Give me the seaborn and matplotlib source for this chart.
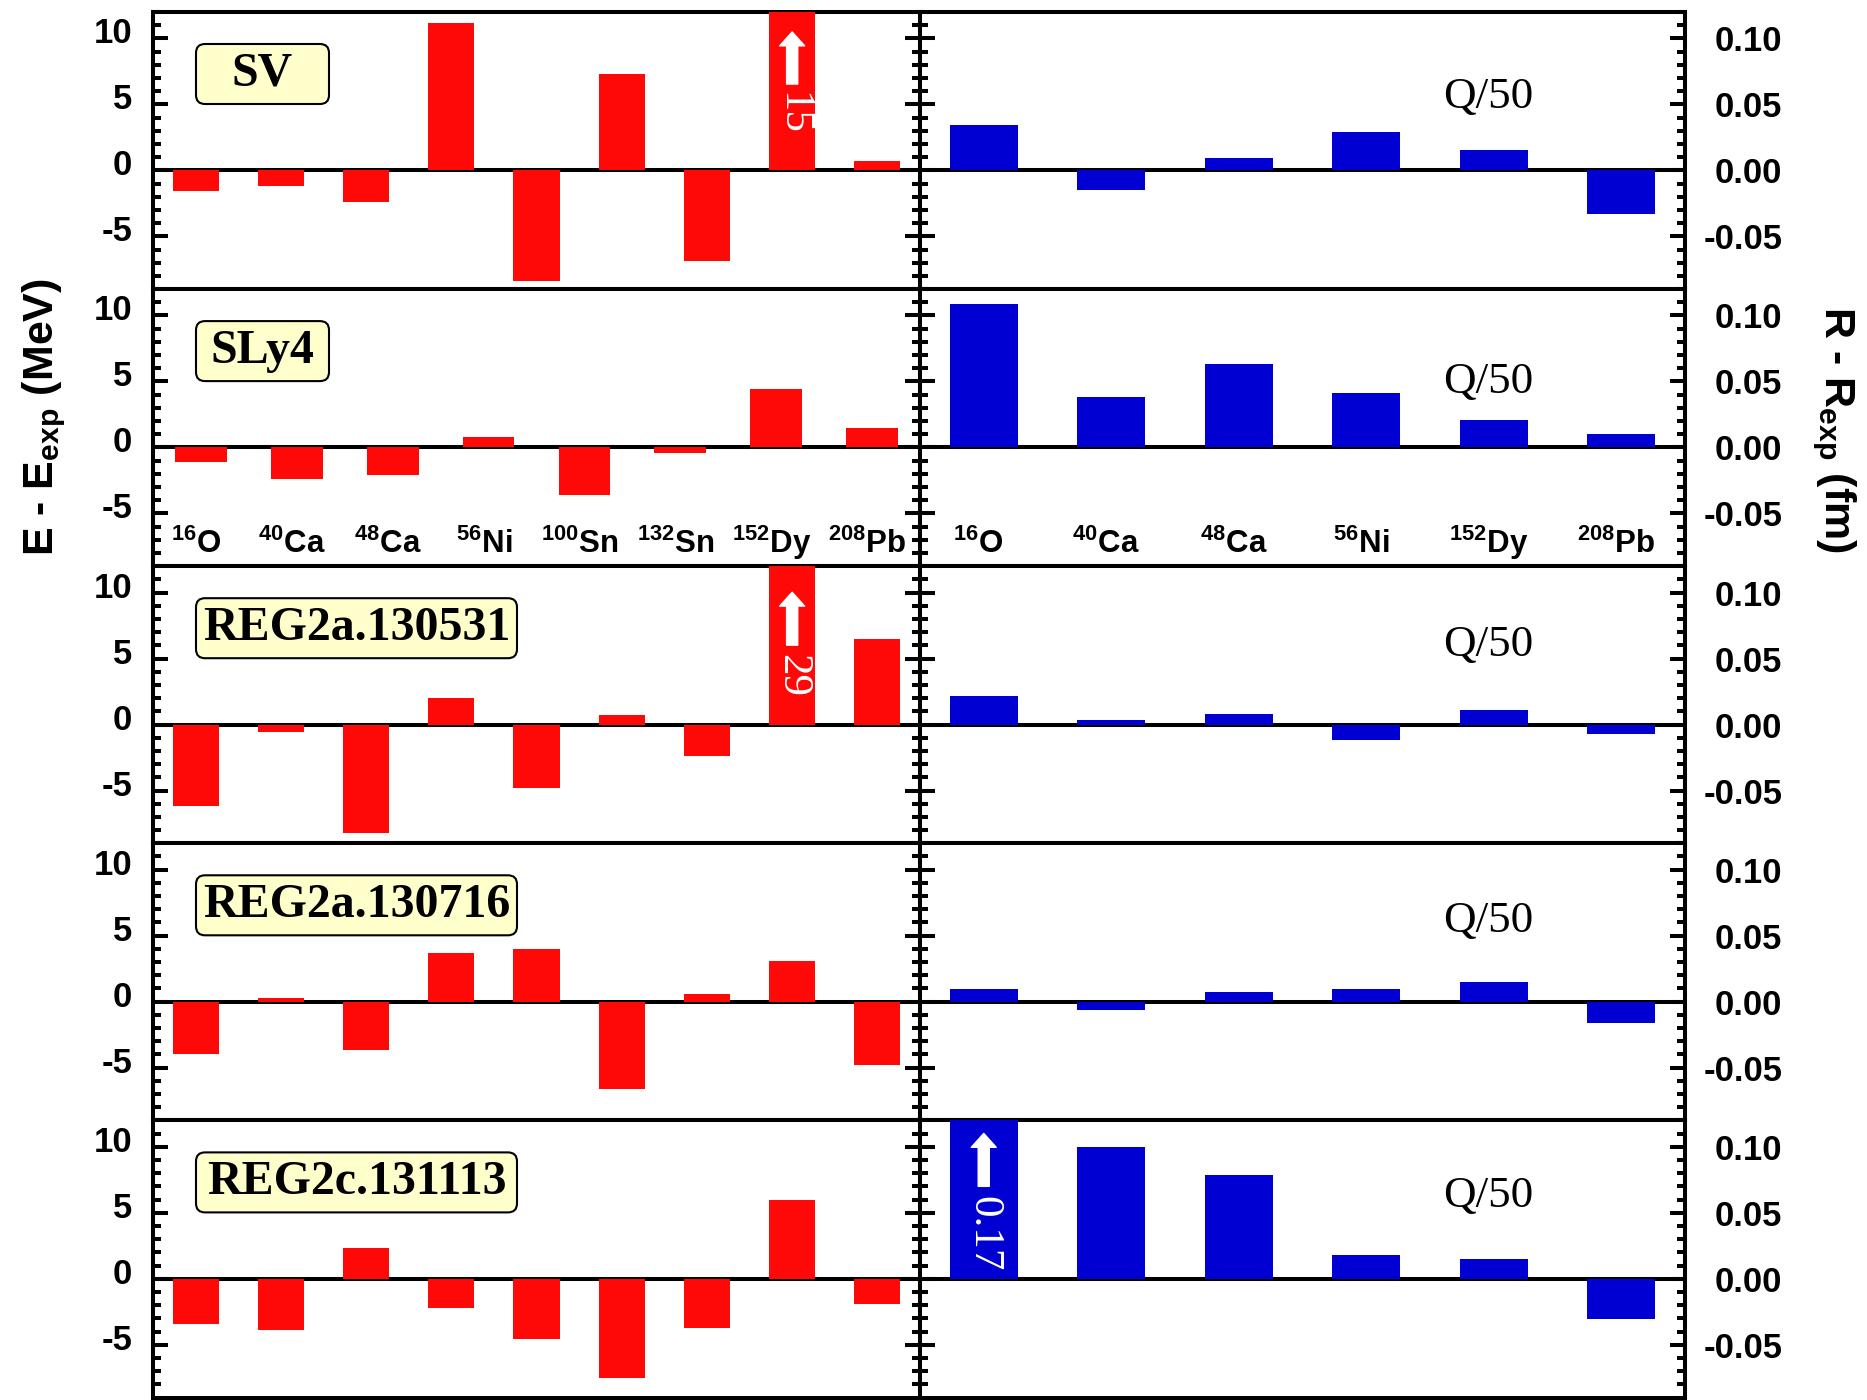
import matplotlib
matplotlib.use("Agg")
import matplotlib.pyplot as plt
import numpy as np
import pandas as pd
import seaborn as sns
from matplotlib.patches import FancyBboxPatch, FancyArrowPatch
from matplotlib.ticker import MultipleLocator, FormatStrFormatter
from matplotlib.transforms import ScaledTranslation, blended_transform_factory

plt.rcParams["font.family"] = ["Liberation Sans", "DejaVu Sans"]
plt.rcParams["mathtext.default"] = "regular"

# ---------------- data ----------------
forces = ["SV", "SLy4", "REG2a.130531", "REG2a.130716", "REG2c.131113"]

# energy panels: nine nuclei in most rows, eight in the SLy4 row
nuclei_e9 = [r"$^{16}$O", r"$^{40}$Ca", r"$^{48}$Ca", r"$^{56}$Ni", r"$^{90}$Zr",
             r"$^{100}$Sn", r"$^{132}$Sn", r"$^{152}$Dy", r"$^{208}$Pb"]
nuclei_e8 = [r"$^{16}$O", r"$^{40}$Ca", r"$^{48}$Ca", r"$^{56}$Ni",
             r"$^{100}$Sn", r"$^{132}$Sn", r"$^{152}$Dy", r"$^{208}$Pb"]
nuclei_r = [r"$^{16}$O", r"$^{40}$Ca", r"$^{48}$Ca", r"$^{56}$Ni",
            r"$^{152}$Dy", r"$^{208}$Pb"]

de_sv = [-1.6, -1.2, -2.4, 11.2, -8.4, 7.3, -6.9, 15.0, 0.7]
de_sly4 = [-1.1, -2.4, -2.1, 0.8, -3.6, -0.4, 4.4, 1.5]
de_reg2a_130531 = [-6.2, -0.6, -8.2, 2.0, -4.8, 0.7, -2.4, 29.0, 6.5]
de_reg2a_130716 = [-4.0, 0.25, -3.7, 3.7, 4.0, -6.6, 0.6, 3.1, -4.8]
de_reg2c_131113 = [-3.4, -3.9, 2.3, -2.2, -4.6, -7.5, -3.7, 6.0, -1.9]

dr_sv = [0.034, -0.015, 0.009, 0.029, 0.0155, -0.033]
dr_sly4 = [0.109, 0.038, 0.0635, 0.041, 0.0205, 0.010]
dr_reg2a_130531 = [0.0215, 0.0035, 0.008, -0.012, 0.011, -0.007]
dr_reg2a_130716 = [0.0095, -0.006, 0.007, 0.0095, 0.015, -0.016]
dr_reg2c_131113 = [0.17, 0.0997, 0.079, 0.018, 0.015, -0.0303]

energy_rows = [(nuclei_e9, de_sv), (nuclei_e8, de_sly4), (nuclei_e9, de_reg2a_130531),
               (nuclei_e9, de_reg2a_130716), (nuclei_e9, de_reg2c_131113)]
radius_rows = [dr_sv, dr_sly4, dr_reg2a_130531, dr_reg2a_130716, dr_reg2c_131113]

# off-scale bars: (row, column, bar index, label)
off_scale = [(0, "E", 7, "15"), (2, "E", 7, "29"), (4, "R", 0, "0.17")]

RED = "#ff0808"
BLUE = "#0000d2"

# ---------------- layout ----------------
W, H = 1867, 1400
fig = plt.figure(figsize=(W / 100, H / 100), dpi=100)
fig.patch.set_facecolor("white")

x_left, x_mid, x_right = 153, 920, 1685
top_px, bot_px = 12, 1397.5
row_px = (bot_px - top_px) / 5

LW = 2.9
lab_up = ScaledTranslation(0, 8 / 100, fig.dpi_scale_trans)

box_w_px = [133, 133, 321, 321, 321]
qy = [0.695, 0.664, 0.717, 0.718, 0.726]
arrow_geom = {0: (0.740, 0.928, 0.635), 2: (0.715, 0.906, 0.605), 4: (0.762, 0.953, 0.59)}

SERIF = ["Liberation Serif", "DejaVu Serif"]


def style_axis(ax, side):
    for sp in ax.spines.values():
        sp.set_linewidth(LW)
        sp.set_color("black")
    ax.set_xticks([])
    ax.set_xlabel("")
    ax.set_ylabel("")
    ax.tick_params(axis="x", which="both", bottom=False, top=False,
                   labelbottom=False)
    ax.tick_params(axis="y", which="both", direction="in", left=True,
                   right=True, width=LW, color="black")
    ax.tick_params(axis="y", which="major", length=11, labelsize=25)
    ax.tick_params(axis="y", which="minor", length=6)
    if side == "left":
        ax.tick_params(axis="y", which="major", labelleft=True,
                       labelright=False, pad=15)
    else:
        ax.tick_params(axis="y", which="major", labelleft=False,
                       labelright=True, pad=70)
    ax.set_facecolor("white")


for i in range(5):
    row_top = top_px + i * row_px
    y0 = 1 - (row_top + row_px) / H
    axL = fig.add_axes([x_left / W, y0, (x_mid - x_left) / W, row_px / H])
    axR = fig.add_axes([x_mid / W, y0, (x_right - x_mid) / W, row_px / H])

    # ---- energy residuals ----
    cats, vals = energy_rows[i]
    dfe = pd.DataFrame({"nucleus": cats, "dE": vals})
    sns.barplot(data=dfe, x="nucleus", y="dE", color=RED, saturation=1,
                width=0.54, linewidth=0, errorbar=None, ax=axL, zorder=3)
    axL.axhline(0, color="black", lw=LW, zorder=2)
    axL.set_xlim(-0.5, len(cats) - 0.5)
    axL.set_ylim(-9, 12)
    axL.set_yticks([-5, 0, 5, 10])
    axL.yaxis.set_minor_locator(MultipleLocator(1))
    axL.yaxis.set_major_formatter(FormatStrFormatter("%d"))
    style_axis(axL, "left")
    for lab in axL.get_yticklabels():
        lab.set_fontweight("bold")
        lab.set_transform(lab.get_transform() + lab_up)

    # ---- radius residuals ----
    dfr = pd.DataFrame({"nucleus": nuclei_r, "dR": radius_rows[i]})
    sns.barplot(data=dfr, x="nucleus", y="dR", color=BLUE, saturation=1,
                width=0.53, linewidth=0, errorbar=None, ax=axR, zorder=3)
    axR.axhline(0, color="black", lw=LW, zorder=2)
    axR.set_xlim(-0.5, len(nuclei_r) - 0.5)
    axR.set_ylim(-0.09, 0.12)
    axR.set_yticks([-0.05, 0.0, 0.05, 0.10])
    axR.yaxis.set_minor_locator(MultipleLocator(0.01))
    axR.yaxis.set_major_formatter(FormatStrFormatter("%.2f"))
    style_axis(axR, "right")
    for lab in axR.get_yticklabels():
        lab.set_fontweight("bold")
        lab.set_horizontalalignment("right")

    # ---- force label box ----
    bx0 = 196 / 100
    by0 = (H - (row_top + 92)) / 100
    bw = box_w_px[i] / 100
    bh = 60 / 100
    box = FancyBboxPatch((bx0, by0), bw, bh,
                         boxstyle="round,pad=0,rounding_size=0.09",
                         transform=fig.dpi_scale_trans, facecolor="#ffffcc",
                         edgecolor="black", linewidth=1.5, zorder=5)
    fig.add_artist(box)
    fig.text((196 + box_w_px[i] / 2) / W, 1 - (row_top + 62) / H, forces[i],
             ha="center", va="center", fontsize=34.5, fontweight="bold",
             family=SERIF, zorder=6)

    # ---- Q/50 note over 152Dy ----
    trR = blended_transform_factory(axR.transData, axR.transAxes)
    axR.text(nuclei_r.index(r"$^{152}$Dy") - 0.04, qy[i], "Q/50", transform=trR,
             ha="center", va="center", fontsize=32.5, family=SERIF, zorder=6)

    # ---- nucleus names inside the SLy4 row ----
    if i == 1:
        trL = blended_transform_factory(axL.transData, axL.transAxes)
        for j, name in enumerate(cats):
            axL.text(j - 0.05, 0.046, name, transform=trL, ha="center",
                     va="baseline", fontsize=22.5, fontweight="bold", zorder=6)
        for j, name in enumerate(nuclei_r):
            axR.text(j - 0.04, 0.046, name, transform=trR, ha="center",
                     va="baseline", fontsize=22.5, fontweight="bold", zorder=6)

    # ---- off-scale bars: arrow plus value ----
    for (row, col, idx, txt) in off_scale:
        if row != i:
            continue
        ax = axL if col == "E" else axR
        tr = blended_transform_factory(ax.transData, ax.transAxes)
        ya, yb, yt = arrow_geom[row]
        arr = FancyArrowPatch((idx, ya), (idx, yb), transform=tr,
                              arrowstyle="simple,head_length=0.5,head_width=0.9,tail_width=0.4",
                              mutation_scale=20, color="white", shrinkA=0,
                              shrinkB=0, zorder=6)
        ax.add_patch(arr)
        ax.text(idx, yt, txt, transform=tr, rotation=-90, ha="center",
                va="center", color="white", fontsize=31, family=SERIF,
                zorder=6)

# ---- axis titles ----
fig.text(44 / W, 1 - 417 / H, r"E - E$_{exp}$ (MeV)", rotation=90,
         ha="center", va="center", fontsize=31, fontweight="bold")
fig.text(1834 / W, 1 - 429 / H, r"R - R$_{exp}$ (fm)", rotation=270,
         ha="center", va="center", fontsize=31, fontweight="bold")

fig.savefig("out.png", dpi=100, facecolor="white")
